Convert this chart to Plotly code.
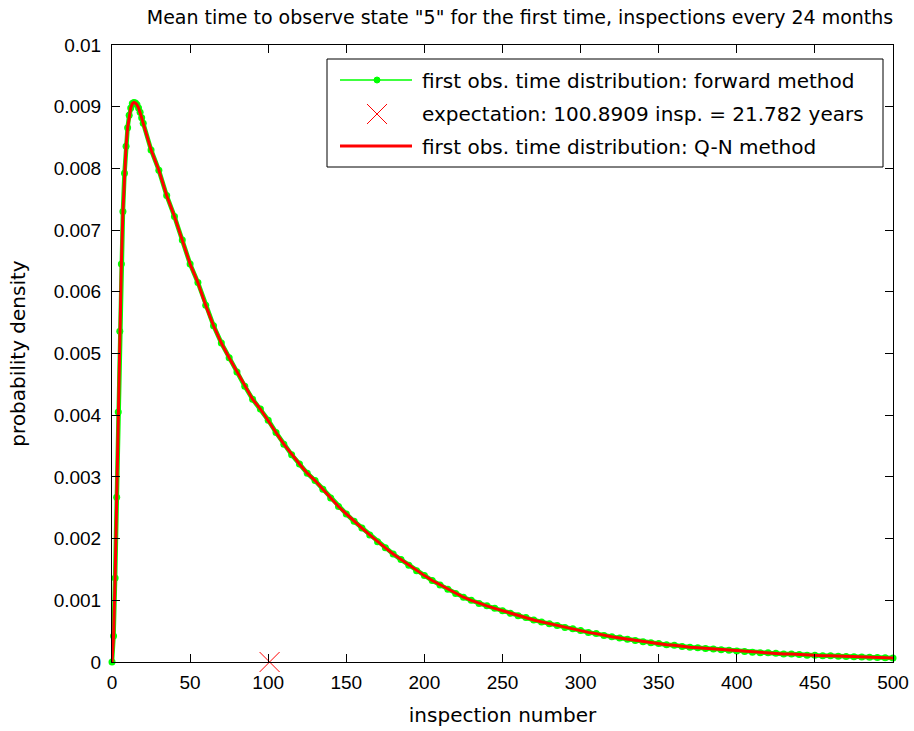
import plotly.graph_objects as go

# Inspection numbers at which the first-observation density was evaluated
inspections = list(range(0, 21)) + list(range(25, 501, 5))

# Probability density of first observing state "5" (forward method)
forward_density = [
    0.0, 0.00042, 0.00136, 0.00267, 0.00405, 0.00536, 0.00645, 0.00730,
    0.00792, 0.00836, 0.00866, 0.00886, 0.00898, 0.00905, 0.00907, 0.00906,
    0.00903, 0.00898, 0.00891, 0.00882, 0.00873,
    0.00830, 0.00797, 0.00756, 0.00722, 0.00684, 0.00645, 0.00615, 0.00578,
    0.00545, 0.00517, 0.00493, 0.00470, 0.00447, 0.00426, 0.00410, 0.00392,
    0.00372, 0.00353, 0.00336, 0.00321, 0.00306, 0.00294, 0.00280, 0.00266,
    0.00252, 0.00240, 0.00228, 0.00217, 0.00206, 0.00195, 0.00185, 0.00175,
    0.00166, 0.00157, 0.00148, 0.00140, 0.00132, 0.00125, 0.00118, 0.00111,
    0.00105, 0.00100, 0.00095, 0.00091, 0.00087, 0.00083, 0.00079, 0.00075,
    0.00072, 0.00068, 0.00065, 0.00062, 0.00059, 0.00056, 0.00054, 0.00051,
    0.00048, 0.00046, 0.00043, 0.00041, 0.00039, 0.00037, 0.00035, 0.00033,
    0.00031, 0.00030, 0.00028, 0.00027, 0.00025, 0.00024, 0.00023, 0.00022,
    0.00021, 0.00020, 0.00019, 0.00018, 0.00017, 0.00016, 0.00015, 0.00015,
    0.00014, 0.00013, 0.00013, 0.00012, 0.00011, 0.00011, 0.00010, 0.00010,
    0.000095, 0.00009, 0.000085, 0.00008, 0.000077, 0.000073, 0.00007, 0.000066,
]

# Q-N method gives the same distribution
qn_density = list(forward_density)

# Expected first-observation inspection
expectation_insp = 100.8909
expectation_years = 21.782

x_ticks = list(range(0, 501, 50))
y_ticks = [i / 1000 for i in range(0, 11)]
y_tick_text = ["0"] + ["0.%03d" % i for i in range(1, 10)] + ["0.01"]

GREEN = "#00ff00"
RED = "#ff0000"
TEXT_FONT = "DejaVu Sans"
TICK_FONT = "Liberation Sans"

W, H = 914, 731
L, R, T, B = 112, 21, 45, 69
PW, PH = W - L - R, H - T - B


def px(xp):
    return (xp - L) / PW


def py(yp):
    return (H - B - yp) / PH


fig = go.Figure()

fig.add_trace(go.Scatter(
    x=inspections, y=forward_density, mode="lines+markers",
    line=dict(color=GREEN, width=4.5),
    marker=dict(color=GREEN, size=7, symbol="circle"),
    cliponaxis=False, showlegend=False,
))
fig.add_trace(go.Scatter(
    x=[expectation_insp], y=[0], mode="markers",
    marker=dict(symbol="x-thin", size=20, line=dict(color=RED, width=1)),
    cliponaxis=False, showlegend=False,
))
fig.add_trace(go.Scatter(
    x=inspections, y=qn_density, mode="lines",
    line=dict(color=RED, width=3),
    cliponaxis=False, showlegend=False,
))

axis_common = dict(
    showline=True, linecolor="black", linewidth=1, mirror="ticks",
    ticks="inside", ticklen=8, tickwidth=1, tickcolor="black",
    showgrid=False, zeroline=False, automargin=False,
    tickfont=dict(family=TICK_FONT, size=19, color="black"),
)

fig.update_xaxes(
    range=[0, 500], tickvals=x_ticks, ticktext=[str(v) for v in x_ticks],
    ticklabelstandoff=3,
    title=dict(text="inspection number", standoff=16,
               font=dict(family=TEXT_FONT, size=20, color="black")),
    **axis_common,
)
fig.update_yaxes(
    range=[0, 0.01], tickvals=y_ticks, ticktext=y_tick_text,
    ticklabelstandoff=6,
    title=dict(text="probability density", standoff=22,
               font=dict(family=TEXT_FONT, size=20, color="black")),
    **axis_common,
)

# Legend drawn as a framed box with line/marker samples
shapes = [
    dict(type="rect", xref="paper", yref="paper",
         x0=px(327), x1=px(883), y0=py(167), y1=py(59),
         line=dict(color="black", width=1), fillcolor="white", layer="above"),
    dict(type="line", xref="paper", yref="paper",
         x0=px(340), x1=px(412), y0=py(80), y1=py(80),
         line=dict(color=GREEN, width=1.5), layer="above"),
    dict(type="circle", xref="paper", yref="paper",
         x0=px(374), x1=px(380), y0=py(83), y1=py(77),
         line=dict(color=GREEN, width=1), fillcolor=GREEN, layer="above"),
    dict(type="line", xref="paper", yref="paper",
         x0=px(367), x1=px(387), y0=py(104), y1=py(124),
         line=dict(color=RED, width=1), layer="above"),
    dict(type="line", xref="paper", yref="paper",
         x0=px(367), x1=px(387), y0=py(124), y1=py(104),
         line=dict(color=RED, width=1), layer="above"),
    dict(type="line", xref="paper", yref="paper",
         x0=px(340), x1=px(412), y0=py(146), y1=py(146),
         line=dict(color=RED, width=3), layer="above"),
]

legend_labels = [
    "first obs. time distribution: forward method",
    "expectation: %.4f insp. = %.3f years" % (expectation_insp, expectation_years),
    "first obs. time distribution: Q-N method",
]
legend_rows = [81, 114, 147]
annotations = [
    dict(text=t, xref="paper", yref="paper", x=px(420), y=py(yr),
         xanchor="left", yanchor="middle", showarrow=False,
         font=dict(family=TEXT_FONT, size=20, color="black"))
    for t, yr in zip(legend_labels, legend_rows)
]

fig.update_layout(
    width=W, height=H,
    margin=dict(l=L, r=R, t=T, b=B),
    paper_bgcolor="white", plot_bgcolor="white",
    title=dict(
        text='Mean time to observe state "5" for the first time, inspections every 24 months',
        xref="paper", x=px(520), xanchor="center",
        yref="container", y=1 - 17 / H, yanchor="middle",
        font=dict(family=TEXT_FONT, size=19, color="black"),
    ),
    shapes=shapes, annotations=annotations,
)

fig.write_html("out.html")
